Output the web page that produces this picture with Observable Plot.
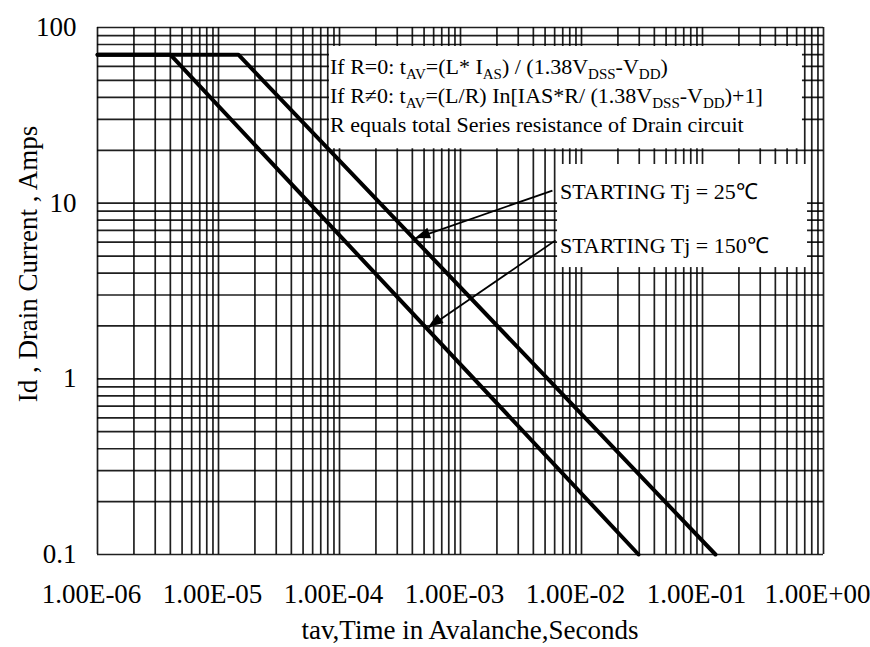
<!DOCTYPE html>
<html><head><meta charset="utf-8">
<script src="https://cdn.jsdelivr.net/npm/d3@7"></script>
<script src="https://cdn.jsdelivr.net/npm/@observablehq/plot@0.6"></script>
<style>body{margin:0;background:#fff} svg{display:block}</style>
</head><body><div id="chart"></div>
<script>
// Tick values and labels
const xTicks = [1e-6, 1e-5, 1e-4, 1e-3, 1e-2, 1e-1, 1];
const xTickLabels = ["1.00E-06", "1.00E-05", "1.00E-04", "1.00E-03", "1.00E-02", "1.00E-01", "1.00E+00"];
const yTicks = [0.1, 1, 10, 100];
const yTickLabels = ["0.1", "1", "10", "100"];
const xDecades = [1e-6, 1e-5, 1e-4, 1e-3, 1e-2, 1e-1];
const yDecades = [0.1, 1, 10];
const multipliers = [1, 2, 3, 4, 5, 6, 7, 8, 9];

// Curves: Id (A) vs tav (s)
const t25 = [1e-6, 1.46e-5, 0.128];
const i25 = [70, 70, 0.1];
const t150 = [1e-6, 4.0e-6, 0.0296];
const i150 = [70, 70, 0.1];

// White annotation boxes (data coords)
const boxX1 = [8.26e-5, 6.34e-3];
const boxX2 = [0.67, 0.738];
const boxY1 = [20.4, 4.3];
const boxY2 = [78, 16.6];

// Arrows from labels to curves
const arrowX1 = [5.75e-3, 6.1e-3];
const arrowY1 = [11.8, 6.14];
const arrowX2 = [4.25e-4, 5.45e-4];
const arrowY2 = [6.3, 1.96];

// Annotation text anchors
const noteX = 8.43e-5;
const noteY = [54.0, 36.9, 25.3];
const startX = 6.7e-3;
const startY = [10.5, 5.18];
const startLabels = ["STARTING Tj = 25℃", "STARTING Tj = 150℃"];

const xGrid = xDecades.flatMap(d => multipliers.map(m => d * m)).concat([1]);
const yGrid = yDecades.flatMap(d => multipliers.map(m => d * m)).concat([100]);

const c25 = t25.map((t, k) => ({t, i: i25[k]}));
const c150 = t150.map((t, k) => ({t, i: i150[k]}));
const boxes = boxX1.map((x, k) => ({x1: x, x2: boxX2[k], y1: boxY1[k], y2: boxY2[k]}));
const arrows = arrowX1.map((x, k) => ({x1: x, y1: arrowY1[k], x2: arrowX2[k], y2: arrowY2[k]}));

const FONT = "'Liberation Serif', 'Times New Roman', serif";

const plot = Plot.plot({
  width: 870, height: 647,
  marginLeft: 97, marginRight: 47, marginTop: 27, marginBottom: 93,
  style: {fontFamily: FONT, fontSize: "27px", color: "#000", background: "#fff"},
  x: {type: "log", domain: [1e-6, 1], ticks: xTicks, tickFormat: d => xTickLabels[xTicks.indexOf(d)], tickSize: 0, tickPadding: 29, label: null},
  y: {type: "log", domain: [0.1, 100], ticks: yTicks, tickFormat: d => yTickLabels[yTicks.indexOf(d)], tickSize: 0, tickPadding: 21, label: null},
  marks: [
    Plot.ruleX(xGrid, {stroke: "#000", strokeWidth: 1.7, strokeOpacity: 0.88}),
    Plot.ruleY(yGrid, {stroke: "#000", strokeWidth: 1.7, strokeOpacity: 0.88}),
    Plot.rect(boxes, {x1: "x1", x2: "x2", y1: "y1", y2: "y2", fill: "#fff"}),
    Plot.line(c25, {x: "t", y: "i", stroke: "#000", strokeWidth: 4}),
    Plot.line(c150, {x: "t", y: "i", stroke: "#000", strokeWidth: 4}),
    Plot.link(arrows, {x1: "x1", y1: "y1", x2: "x2", y2: "y2", stroke: "#000", strokeWidth: 1.8})
  ]
});

document.getElementById("chart").appendChild(plot);

const sx = plot.scale("x"), sy = plot.scale("y");
const svg = d3.select(plot);

svg.selectAll('[aria-label="x-axis tick label"] text').attr("dx", -6);

// Filled arrowheads at link ends, oriented via scales
arrows.forEach(a => {
  const x1 = sx.apply(a.x1), y1 = sy.apply(a.y1), x2 = sx.apply(a.x2), y2 = sy.apply(a.y2);
  const dx = x2 - x1, dy = y2 - y1, len = Math.hypot(dx, dy);
  const ux = dx / len, uy = dy / len, L = 15, w = 5.5;
  const bx = x2 - ux * L, by = y2 - uy * L;
  const pts = [[x2, y2], [bx - uy * w, by + ux * w], [bx + uy * w, by - ux * w]];
  svg.append("path").attr("d", "M" + pts.map(p => p.join(",")).join("L") + "Z").attr("fill", "#000");
});

const g = svg.append("g").attr("font-family", FONT).attr("font-size", 22).attr("fill", "#000").attr("text-anchor", "start");

function addLine(x, y, parts) {
  const t = g.append("text").attr("x", sx.apply(x)).attr("y", sy.apply(y));
  let shifted = false;
  parts.forEach(p => {
    const ts = t.append("tspan").text(p[0]);
    if (p[1]) {
      ts.attr("font-size", 15);
      if (!shifted) { ts.attr("dy", 5); shifted = true; }
    } else if (shifted) {
      ts.attr("dy", -5); shifted = false;
    }
  });
}

addLine(noteX, noteY[0], [["If R=0: t"], ["AV", 1], ["=(L* I"], ["AS", 1], [") / (1.38V"], ["DSS", 1], ["-V"], ["DD", 1], [")"]]);
addLine(noteX, noteY[1], [["If R≠0: t"], ["AV", 1], ["=(L/R) In[IAS*R/ (1.38V"], ["DSS", 1], ["-V"], ["DD", 1], [")+1]"]]);
addLine(noteX, noteY[2], [["R equals total Series resistance of Drain circuit"]]);
startLabels.forEach((s, k) => addLine(startX, startY[k], [[s]]));

// Axis titles
svg.append("text").attr("x", 470).attr("y", 639).attr("text-anchor", "middle")
  .attr("font-family", FONT).attr("font-size", 27).text("tav,Time in Avalanche,Seconds");
svg.append("text").attr("transform", "translate(37,264) rotate(-90)").attr("text-anchor", "middle")
  .attr("font-family", FONT).attr("font-size", 27).text("Id , Drain Current , Amps");
</script>
</body></html>
